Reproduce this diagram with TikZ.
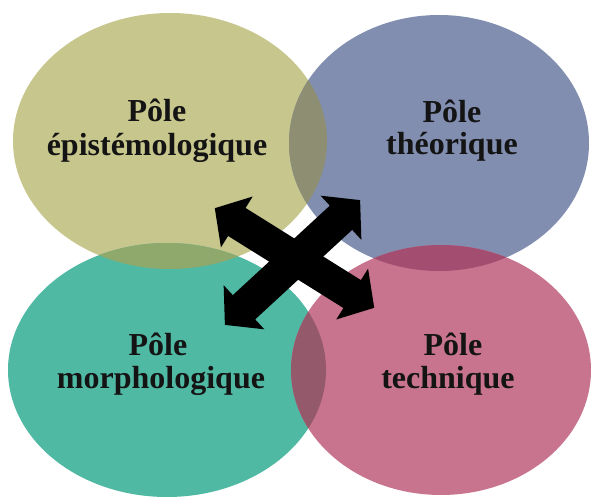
\documentclass[tikz,border=0pt]{standalone}
\usepackage{fontspec}
\setmainfont{Liberation Serif}
\definecolor{cyel}{RGB}{199,198,140}
\definecolor{cblu}{RGB}{129,142,176}
\definecolor{ctea}{RGB}{80,185,164}
\definecolor{cpin}{RGB}{200,116,142}
\definecolor{cyb}{RGB}{142,142,114}
\definecolor{cyt}{RGB}{143,168,108}
\definecolor{cbp}{RGB}{163,77,112}
\definecolor{ctp}{RGB}{148,90,108}
\begin{document}
\begin{tikzpicture}[x=1pt,y=-1pt,
  lbl/.style={font=\fontsize{32}{35}\selectfont\bfseries, text=black!92, inner sep=0pt, anchor=base},
  arrowfill/.style={fill=black}]
\useasboundingbox (0,0) rectangle (592,497);
\fill[white] (0,0) rectangle (592,497);
% ellipses
\fill[cyel] (170,141) ellipse [x radius=157pt, y radius=128pt];
\fill[cblu] (439,143) ellipse [x radius=150pt, y radius=128pt];
\fill[ctea] (167,370) ellipse [x radius=159pt, y radius=127pt];
\fill[cpin] (441,370) ellipse [x radius=150pt, y radius=125pt];
% overlaps
\begin{scope}
  \clip (170,141) ellipse [x radius=157pt, y radius=128pt];
  \fill[cyb] (439,143) ellipse [x radius=150pt, y radius=128pt];
  \fill[cyt] (167,370) ellipse [x radius=159pt, y radius=127pt];
\end{scope}
\begin{scope}
  \clip (441,370) ellipse [x radius=150pt, y radius=125pt];
  \fill[cbp] (439,143) ellipse [x radius=150pt, y radius=128pt];
  \fill[ctp] (167,370) ellipse [x radius=159pt, y radius=127pt];
\end{scope}
% crossed double arrows
\begin{scope}[shift={(294.5,258)}, rotate=-32]
  \fill[arrowfill] (-94,0) -- (-68,30) -- (-68,16.5) -- (68,16.5) -- (68,30) -- (94,0)
    -- (68,-30) -- (68,-16.5) -- (-68,-16.5) -- (-68,-30) -- cycle;
\end{scope}
\begin{scope}[shift={(292.5,262.5)}, rotate=-137.3]
  \fill[arrowfill] (-92,0) -- (-66,30) -- (-66,16.5) -- (66,16.5) -- (66,30) -- (92,0)
    -- (66,-30) -- (66,-16.5) -- (-66,-16.5) -- (-66,-30) -- cycle;
\end{scope}
% labels
\node[lbl] (tl1) at (157,122) {Pôle};
\node[lbl] (tl2) at (157,156) {épistémologique};
\node[lbl] (tr1) at (452,123) {Pôle};
\node[lbl] (tr2) at (452,155) {théorique};
\node[lbl] (bl1) at (158,355) {Pôle};
\node[lbl] (bl2) at (161,388) {morphologique};
\node[lbl] (br1) at (453,355) {Pôle};
\node[lbl] (br2) at (448,388) {technique};
\end{tikzpicture}
\end{document}
